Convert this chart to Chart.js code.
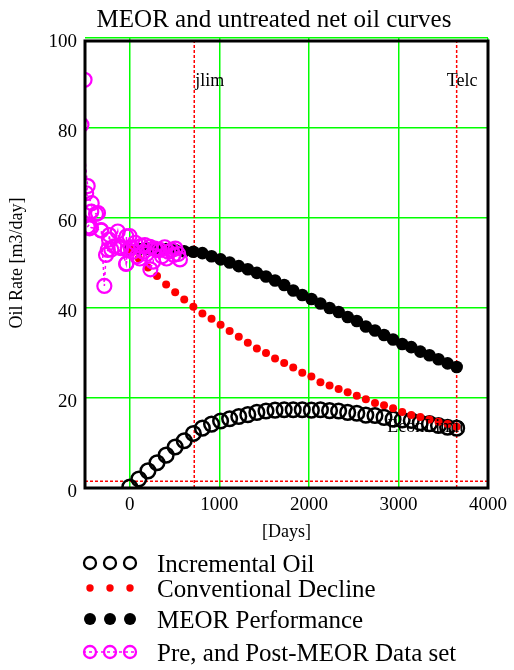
<!DOCTYPE html>
<html><head><meta charset="utf-8">
<script src="https://cdn.jsdelivr.net/npm/chart.js@4.4.1/dist/chart.umd.min.js"></script>
<style>html,body{margin:0;padding:0;background:#fff;} #wrap{position:relative;width:514px;height:670px;}</style>
</head><body><div id="wrap"><canvas id="c" width="514" height="670"></canvas></div>
<script>
const titleText = 'MEOR and untreated net oil curves';
const xAxisTitle = '[Days]';
const yAxisTitle = 'Oil Rate [m3/day]';
const seriesNames = ['Incremental Oil', 'Conventional Decline', 'MEOR Performance', 'Pre, and Post-MEOR Data set'];
const xMin = -500;
const xTicks = [0, 1000, 2000, 3000, 4000];
const yTicks = [0, 20, 40, 60, 80, 100];

const days = [0, 101, 203, 304, 406, 507, 608, 710, 811, 913, 1014, 1115, 1217, 1318, 1419, 1521, 1622, 1724, 1825,
  1926, 2028, 2129, 2231, 2332, 2433, 2535, 2636, 2738, 2839, 2940, 3042, 3143, 3244, 3346, 3447, 3549, 3650];
const incrementalOil = [0.2, 2.0, 3.8, 5.6, 7.3, 9.1, 10.5, 12.1, 13.3, 14.2, 14.9, 15.4, 15.9, 16.3, 16.8, 17.1, 17.3, 17.4, 17.4,
  17.4, 17.3, 17.4, 17.2, 17.1, 16.8, 16.6, 16.2, 16.1, 15.7, 15.3, 15.1, 15.0, 14.5, 14.3, 13.9, 13.5, 13.3];
const conventionalDecline = [53.0, 51.0, 49.0, 47.1, 45.2, 43.5, 41.9, 40.3, 38.8, 37.6, 36.3, 34.9, 33.6, 32.3, 31.0, 30.0, 28.8, 27.8, 26.8,
  25.6, 24.8, 23.5, 22.8, 22.0, 21.3, 20.5, 19.7, 18.9, 18.4, 17.7, 16.9, 16.2, 15.8, 15.2, 14.7, 14.2, 13.6];
const meorPerformance = [53.0, 53.1, 53.2, 53.2, 53.1, 52.9, 52.6, 52.5, 52.2, 51.5, 50.8, 50.1, 49.3, 48.6, 47.8, 47.0, 46.1, 45.1, 43.9,
  42.9, 42.0, 41.0, 40.0, 39.1, 38.0, 37.1, 35.9, 35.0, 34.0, 33.0, 32.0, 31.3, 30.3, 29.5, 28.6, 27.7, 26.9];

const dataDays = [-505, -540, -470, -487, -425, -430, -377, -355, -470, -448, -433, -321, -318, -284, -265, -246, -232, -228,
  -206, -172, -134, -112, -97, -41, -37, -37, -22, -3, 10, 37, 60, 80, 112, 130, 150, 168, 190, 224, 230, 261, 280, 300,
  336, 360, 390, 411, 430, 467, 490, 510, 540, 560];
const dataRates = [90.7, 80.7, 67.1, 65.5, 63.3, 61.4, 60.9, 61.1, 58.1, 57.7, 57.9, 57.3, 57.2, 44.9, 51.8, 52.9, 55.2, 56.2,
  53.0, 53.7, 57.0, 53.6, 53.3, 49.8, 55.9, 49.9, 52.9, 56.0, 53.5, 52.5, 54.5, 51.5, 51.0, 53.8, 52.5, 54.0, 52.0, 53.6, 48.6, 50.3, 53.2, 52.9,
  52.9, 51.5, 53.5, 51.0, 52.5, 52.9, 51.8, 53.2, 52.0, 50.8];

const jlim = 720, telc = 3650, econLimit = 1.5;
const refLabels = [
  {text: 'jlim', x: jlim, y: 89.3, dx: 1},
  {text: 'Telc', x: telc, y: 89.3, dx: -10},
  {text: 'EconLimit', x: 2875, y: 12.4, dx: 0}
];

const FONT = '"Liberation Serif", "Times New Roman", serif';
const pts = (xs, ys) => xs.map((x, i) => ({x: x, y: ys[i]}));

const refStyle = {type: 'scatter', showLine: true, pointRadius: 0, borderColor: '#ff0000', borderWidth: 1.5, borderDash: [3, 2], order: 5};

const datasets = [
  {label: seriesNames[0], data: pts(days, incrementalOil), pointStyle: 'circle', pointRadius: 7.3, pointBorderWidth: 2.5,
   pointBackgroundColor: 'rgba(0,0,0,0)', pointBorderColor: '#000', showLine: false, order: 3},
  {label: seriesNames[1], data: pts(days, conventionalDecline), pointRadius: 4, pointBorderWidth: 0,
   pointBackgroundColor: '#ff0000', pointBorderColor: '#ff0000', showLine: false, order: 1},
  {label: seriesNames[2], data: pts(days, meorPerformance), pointRadius: 6.3, pointBorderWidth: 0,
   pointBackgroundColor: '#000', pointBorderColor: '#000', showLine: false, order: 2},
  {label: seriesNames[3], data: pts(dataDays, dataRates), pointRadius: 7, pointBorderWidth: 2.2,
   pointBackgroundColor: 'rgba(0,0,0,0)', pointBorderColor: '#ff00ff', showLine: true, borderColor: '#ff00ff',
   borderWidth: 1.5, borderDash: [3, 3], order: 0},
  Object.assign({label: 'jlim', data: [{x: jlim, y: yTicks[0]}, {x: jlim, y: yTicks[yTicks.length - 1]}]}, refStyle),
  Object.assign({label: 'Telc', data: [{x: telc, y: yTicks[0]}, {x: telc, y: yTicks[yTicks.length - 1]}]}, refStyle),
  Object.assign({label: 'EconLimit', data: [{x: xMin, y: econLimit}, {x: xTicks[xTicks.length - 1], y: econLimit}]}, refStyle)
];
datasets.forEach(d => { d.clip = 0; });

const decor = {
  id: 'decor',
  afterDatasetsDraw(chart) {
    const ctx = chart.ctx, a = chart.chartArea, xs = chart.scales.x, ys = chart.scales.y;
    ctx.save();
    ctx.fillStyle = '#000';
    ctx.font = '18px ' + FONT;
    ctx.textBaseline = 'alphabetic';
    ctx.textAlign = 'left';
    refLabels.forEach(l => ctx.fillText(l.text, xs.getPixelForValue(l.x) + l.dx, ys.getPixelForValue(l.y)));
    ctx.strokeStyle = '#000';
    ctx.lineWidth = 3;
    ctx.strokeRect(a.left, a.top + 3, a.right - a.left, a.bottom - a.top - 3);
    ctx.restore();
  },
  afterDraw(chart) {
    const ctx = chart.ctx;
    ctx.save();
    ctx.fillStyle = '#000';
    ctx.font = '25px ' + FONT;
    ctx.textAlign = 'center';
    ctx.textBaseline = 'alphabetic';
    ctx.fillText(titleText, 274, 27);
    const rows = [563, 588, 619, 652];
    const sx = [90, 110, 130];
    ctx.textAlign = 'left';
    rows.forEach((ry, i) => {
      const ds = chart.data.datasets[i];
      if (i === 3) {
        ctx.save();
        ctx.strokeStyle = ds.borderColor; ctx.lineWidth = 1.5; ctx.setLineDash([3, 3]);
        ctx.beginPath(); ctx.moveTo(83, ry); ctx.lineTo(137, ry); ctx.stroke();
        ctx.restore();
      }
      sx.forEach(x => {
        ctx.beginPath();
        const r = i === 1 ? 3.7 : 6;
        ctx.arc(x, ry, r, 0, Math.PI * 2);
        if (i === 0 || i === 3) {
          ctx.lineWidth = 2.3; ctx.strokeStyle = ds.pointBorderColor; ctx.stroke();
        } else {
          ctx.fillStyle = ds.pointBackgroundColor; ctx.fill();
        }
      });
      ctx.fillStyle = '#000';
      ctx.fillText(seriesNames[i], 157, ry + 8.8);
    });
    ctx.restore();
  }
};

new Chart(document.getElementById('c'), {
  type: 'scatter',
  data: {datasets: datasets},
  options: {
    responsive: false,
    animation: false,
    devicePixelRatio: 1,
    layout: {padding: {top: 38, right: 26, bottom: 122, left: 0}},
    plugins: {legend: {display: false}, tooltip: {enabled: false}, title: {display: false}},
    scales: {
      x: {
        type: 'linear', min: xMin, max: xTicks[xTicks.length - 1],
        afterBuildTicks: s => { s.ticks = xTicks.map(v => ({value: v})); },
        afterFit: s => { s.height = 60; },
        grid: {color: '#00ff00', lineWidth: 1.5, drawTicks: false},
        border: {display: false},
        ticks: {color: '#000', font: {family: FONT, size: 19}, padding: 6, maxRotation: 0, autoSkip: false,
                callback: v => String(v)},
        title: {display: true, text: xAxisTitle, color: '#000', font: {family: FONT, size: 18}, padding: {top: 0, bottom: 5}}
      },
      y: {
        type: 'linear', min: yTicks[0], max: yTicks[yTicks.length - 1],
        afterBuildTicks: s => { s.ticks = yTicks.map(v => ({value: v})); },
        afterFit: s => { s.width = 85; },
        grid: {color: '#00ff00', lineWidth: 1.5, drawTicks: false},
        border: {display: false},
        ticks: {color: '#000', font: {family: FONT, size: 19}, padding: 8, labelOffset: 4, callback: v => String(v)},
        title: {display: true, text: yAxisTitle, color: '#000', font: {family: FONT, size: 18}, padding: {top: 6, bottom: 0}}
      }
    }
  },
  plugins: [decor]
});
</script>
</body></html>
